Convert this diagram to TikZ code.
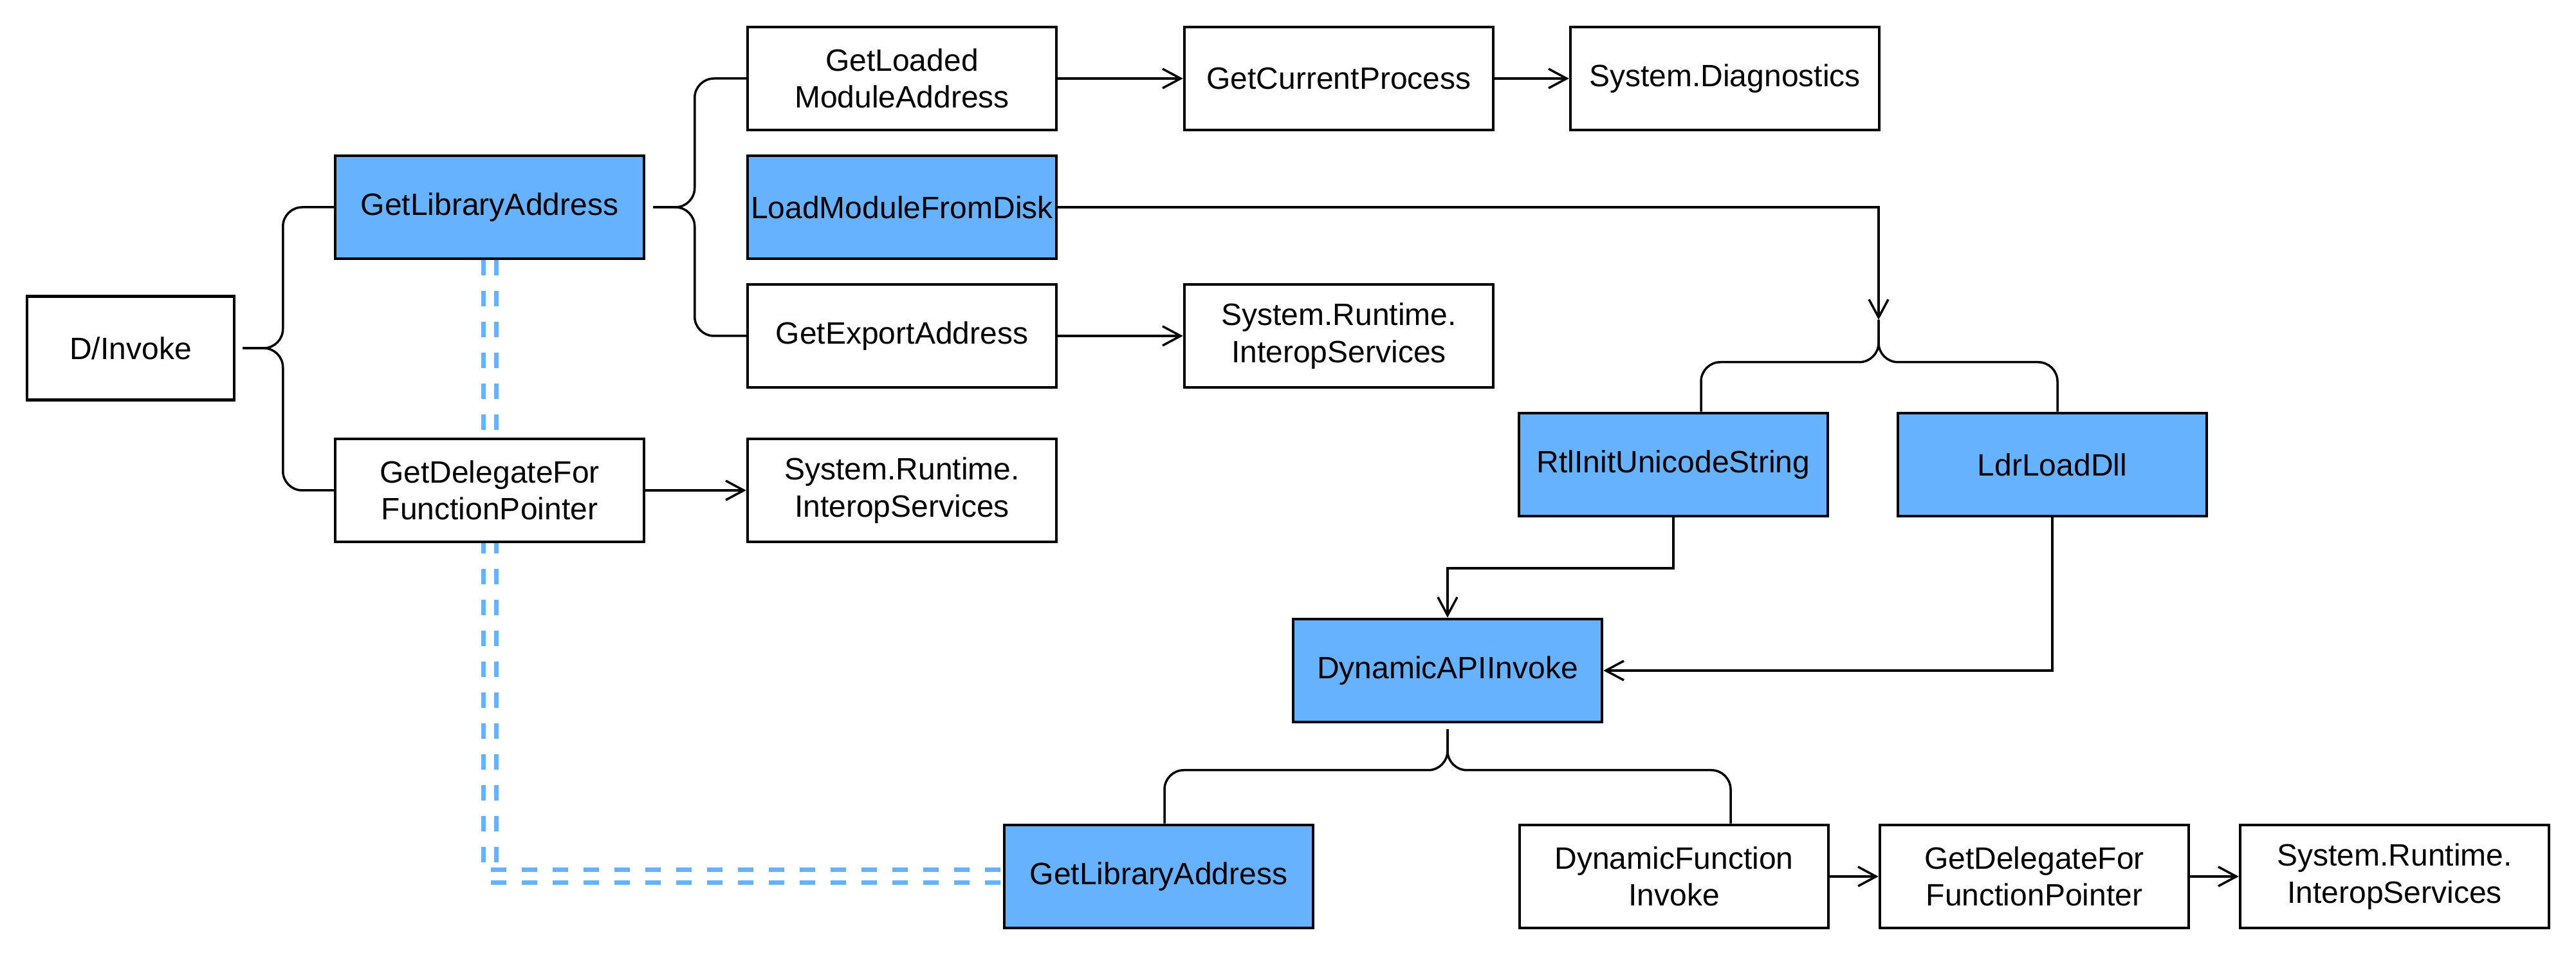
\documentclass[tikz,border=0pt]{standalone}
\usepackage{fontspec}
\setmainfont{Liberation Sans}
\usepackage{tikz}
\usetikzlibrary{arrows.meta,backgrounds}
\definecolor{hitblue}{HTML}{66B2FF}

\begin{document}
\begin{tikzpicture}[x=1mm,y=1mm,
    box/.style={draw,line width=0.45mm,fill=white,minimum width=48mm,minimum height=16mm,
      inner sep=0pt,align=center,font=\fontsize{13.66pt}{16.4pt}\selectfont},
    hit/.style={box,fill=hitblue},
    conn/.style={line width=0.35mm,-{Straight Barb[length=2.8mm,width=3mm]}},
    brace/.style={line width=0.35mm,rounded corners=3mm},
    link/.style={hitblue,line width=0.7mm,dash pattern=on 2.4mm off 2.4mm,
      double=white,double distance=1.3mm}]
    \useasboundingbox (0,0) rectangle (400.4,148.4);

    % --- left part
    \node[box,minimum width=32.2mm,minimum height=16.1mm] (dinv) at (20.3,94.3) {D/Invoke};
    \node[hit] (glib) at (76.1,116.2) {GetLibraryAddress};
    \node[box] (gdel) at (76.1,72.2) {GetDelegateFor\\FunctionPointer};
    \node[box] (sysrt2) at (140.2,72.2) {System.Runtime.\\InteropServices};

    % --- top rows
    \node[box] (gload) at (140.2,136.2) {GetLoaded\\ModuleAddress};
    \node[hit] (lmfd) at (140.2,116.2) {LoadModuleFromDisk};
    \node[box] (gexp) at (140.2,96.2) {GetExportAddress};
    \node[box] (gcur) at (208.1,136.2) {GetCurrentProcess};
    \node[box] (sysdiag) at (268.1,136.2) {System.Diagnostics};
    \node[box] (sysrt1) at (208.1,96.2) {System.Runtime.\\InteropServices};

    % --- ntdll part
    \node[hit] (rtl) at (260.1,76.2) {RtlInitUnicodeString};
    \node[hit] (ldr) at (319.0,76.2) {LdrLoadDll};
    \node[hit] (dapi) at (225.0,44.2) {DynamicAPIInvoke};

    % --- bottom row
    \node[hit] (glib2) at (180.1,12.2) {GetLibraryAddress};
    \node[box] (dfi) at (260.2,12.2) {DynamicFunction\\Invoke};
    \node[box] (gdel2) at (316.2,12.2) {GetDelegateFor\\FunctionPointer};
    \node[box] (sysrt3) at (372.2,12.2) {System.Runtime.\\InteropServices};

    % link between the two GetLibraryAddress
    \begin{pgfonlayer}{background}
      \draw[link] (glib.south) |- (glib2.west);
    \end{pgfonlayer}

    % braces
    \coordinate (dbr) at ([xshift=1.1mm]dinv.east);
    \draw[brace] (dbr) -| ([xshift=-7.9mm]glib.west) -- (glib.west);
    \draw[brace] (dbr) -| ([xshift=-7.9mm]gdel.west) -- (gdel.west);

    \coordinate (gbr) at ([xshift=1.2mm]glib.east);
    \draw[brace] (gbr) -| ([xshift=-8mm]gload.west) -- (gload.west);
    \draw[brace] (gbr) -| ([xshift=-8mm]gexp.west) -- (gexp.west);

    \coordinate (rtip) at (292.0,98.7);
    \draw[brace] (rtip) |- ([xshift=4.3mm,yshift=7.7mm]rtl.north) -- ([xshift=4.3mm]rtl.north);
    \draw[brace] (rtip) |- ([xshift=0.8mm,yshift=7.7mm]ldr.north) -- ([xshift=0.8mm]ldr.north);

    \coordinate (abr) at ([yshift=-0.9mm]dapi.south);
    \draw[brace] (abr) |- ([xshift=0.9mm,yshift=8.3mm]glib2.north) -- ([xshift=0.9mm]glib2.north);
    \draw[brace] (abr) |- ([xshift=8.8mm,yshift=8.3mm]dfi.north) -- ([xshift=8.8mm]dfi.north);

    % arrows
    \draw[conn] (gload) -- (gcur);
    \draw[conn] (gcur) -- (sysdiag);
    \draw[conn] (gexp) -- (sysrt1);
    \draw[conn] (gdel) -- (sysrt2);
    \draw[conn] (lmfd.east) -| (rtip);
    \draw[conn] (rtl.south) -- ++(0,-7.9) -| (dapi.north);
    \draw[conn] (ldr.south) |- (dapi.east);
    \draw[conn] (dfi) -- (gdel2);
    \draw[conn] (gdel2) -- (sysrt3);
\end{tikzpicture}
\end{document}
